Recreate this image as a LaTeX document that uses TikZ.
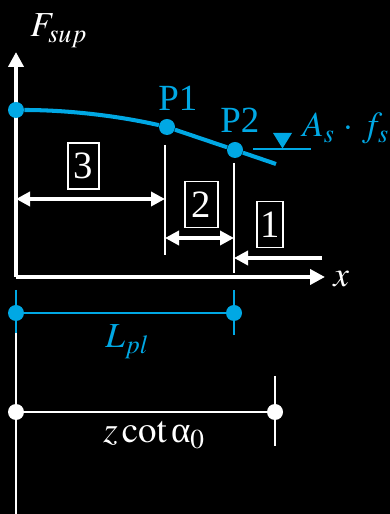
\documentclass[tikz,border=0pt]{standalone}
\usepackage{mathptmx}
\usepackage{fontspec}
\setmainfont{Liberation Serif}
\usepackage{xcolor}
\usepackage{tikz}
\usetikzlibrary{arrows.meta}

\definecolor{plblue}{RGB}{0,168,228}

\begin{document}
\begin{tikzpicture}[
  mlabel/.style={inner sep=0pt, font=\fontsize{20}{23}\selectfont},
  plabel/.style={inner sep=0pt, text=plblue, font=\fontsize{21}{24}\selectfont},
  numbox/.style={rectangle, draw=white, line width=0.9pt, text=white, inner sep=0pt,
    minimum width=0.62cm, minimum height=0.92cm, font=\fontsize{22}{24}\selectfont},
  bdot/.style={circle, fill=plblue, inner sep=0pt, minimum size=0.32cm},
  wdot/.style={circle, fill=white, inner sep=0pt, minimum size=0.32cm},
  axis/.style={-{Triangle[length=3mm,width=3mm]}, line width=2.3pt, draw=white},
  curve/.style={line width=2.3pt, draw=plblue},
  dim/.style={line width=1.1pt, draw=white},
  dimarrow/.style={line width=2.1pt, draw=white, arrows={-{Triangle[length=2.8mm,width=2.8mm]}}},
  tick/.style={line width=1.1pt}
]
  % background and frame
  \fill[black] (0,0) rectangle (7.8,10.28);
  \useasboundingbox (0,0) rectangle (7.8,10.28);

  % axes
  \coordinate (o) at (0.32,4.74);
  \coordinate (ytip) at (0.32,9.24);
  \coordinate (xtip) at (6.50,4.74);
  \draw[axis] (o) -- (ytip);
  \draw[axis] (o) -- (xtip);
  \node[mlabel, text=white, anchor=base west] (flab) at (0.60,9.54) {$F_{sup}$};
  \node[mlabel, text=white, anchor=base west] (xlab) at (6.66,4.54) {$x$};

  % support force curve
  \node[bdot] (s) at (0.32,8.08) {};
  \node[bdot] (p1) at (3.34,7.74) {};
  \node[bdot] (p2) at (4.70,7.28) {};
  \coordinate (cend) at (5.52,7.00);
  \draw[curve] (s) .. controls (1.33,8.08) and (2.33,7.97) .. (p1) -- (p2) -- (cend);
  \node[plabel, anchor=base west] (p1lab) at (3.16,8.06) {P1};
  \node[plabel, anchor=base west] (p2lab) at (4.40,7.62) {P2};

  % yield level
  \fill[plblue] (5.46,7.62) -- (5.84,7.62) -- (5.65,7.31) -- cycle;
  \coordinate (yl) at (5.06,7.30);
  \coordinate (yr) at (6.22,7.30);
  \draw[tick, plblue] (yl) -- (yr);
  \node[mlabel, text=plblue, anchor=base west] (aslab) at (6.04,7.54) {$A_s\mkern2mu\cdot\mkern2mu f_s$};

  % zones
  \coordinate (v1t) at (3.30,7.38);
  \coordinate (v1b) at (3.30,5.18);
  \coordinate (v2t) at (4.68,7.02);
  \coordinate (v2b) at (4.68,4.82);
  \draw[dim] (v1t) -- (v1b);
  \draw[dim] (v2t) -- (v2b);

  \coordinate (a3l) at (0.32,6.30);
  \coordinate (a3r) at (3.30,6.30);
  \coordinate (a2l) at (3.30,5.52);
  \coordinate (a2r) at (4.68,5.52);
  \coordinate (a1l) at (4.68,5.12);
  \coordinate (a1r) at (6.44,5.12);
  \draw[dimarrow, {Triangle[length=2.8mm,width=2.8mm]}-{Triangle[length=2.8mm,width=2.8mm]}] (a3l) -- (a3r);
  \draw[dimarrow, {Triangle[length=2.8mm,width=2.8mm]}-{Triangle[length=2.8mm,width=2.8mm]}] (a2l) -- (a2r);
  \draw[dimarrow] (a1r) -- (a1l);

  \node[numbox] (z3) at (1.67,6.96) {3};
  \node[numbox, minimum width=0.66cm] (z2) at (4.03,6.19) {2};
  \node[numbox, minimum width=0.52cm] (z1) at (5.40,5.79) {1};

  % plastic length
  \coordinate (lt1) at (0.32,4.48);
  \coordinate (lb1) at (0.32,3.62);
  \coordinate (lt2) at (4.68,4.48);
  \coordinate (lb2) at (4.68,3.58);
  \draw[tick, plblue] (lt1) -- (lb1);
  \draw[tick, plblue] (lt2) -- (lb2);
  \node[bdot] (l1) at (0.32,4.02) {};
  \node[bdot] (l2) at (4.68,4.02) {};
  \draw[plblue, line width=1.6pt] (l1) -- (l2);
  \node[mlabel, text=plblue, anchor=base west] (lpl) at (2.10,3.32) {$L_{pl}$};

  % strut projection
  \coordinate (wt) at (0.32,3.62);
  \coordinate (wb) at (0.32,0);
  \draw[tick, white] (wt) -- (wb);
  \coordinate (zt) at (5.50,2.76);
  \coordinate (zb) at (5.50,1.36);
  \draw[tick, white] (zt) -- (zb);
  \node[wdot] (w1) at (0.32,2.04) {};
  \node[wdot] (w2) at (5.50,2.04) {};
  \draw[white, line width=1.6pt] (w1) -- (w2);
  \node[mlabel, text=white, anchor=base west, font=\fontsize{21}{24}\selectfont] (zlab) at (2.06,1.42) {$z\cot\mbox{α}_0$};
\end{tikzpicture}
\end{document}
